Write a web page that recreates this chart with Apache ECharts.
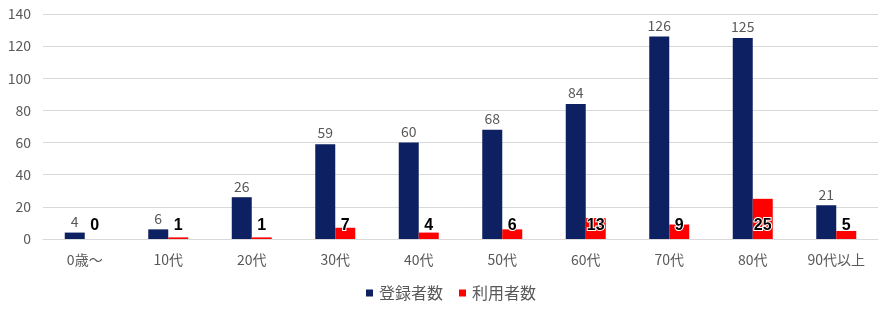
<!DOCTYPE html>
<html><head><meta charset="utf-8">
<script src="https://cdn.jsdelivr.net/npm/echarts@6/dist/echarts.min.js"></script>
<style>html,body{margin:0;padding:0;background:#fff}#c{width:880px;height:325px}</style>
</head><body><div id="c"></div>
<script>
const categories = ['0歳～','10代','20代','30代','40代','50代','60代','70代','80代','90代以上'];
const registered = [4,6,26,59,60,68,84,126,125,21];
const users = [0,1,1,7,4,6,13,9,25,5];
const seriesNames = ['登録者数','利用者数'];
const font = '"Noto Sans CJK JP", sans-serif';
const chart = echarts.init(document.getElementById('c'));
chart.setOption({
  animation:false,
  textStyle:{fontFamily:font},
  grid:{left:43,right:2,top:14,bottom:86,containLabel:false},
  legend:{top:280,left:361,itemWidth:7,itemHeight:7,itemGap:16,icon:'rect',
    textStyle:{color:'#595959',fontSize:16,fontFamily:font,padding:[0,0,0,1]},data:seriesNames},
  xAxis:{type:'category',data:categories,
    axisLine:{lineStyle:{color:'#d9d9d9'}},axisTick:{show:false},
    axisLabel:{color:'#595959',fontSize:14,margin:14,fontFamily:font}},
  yAxis:{type:'value',min:0,max:140,interval:20,
    axisLine:{show:false},axisTick:{show:false},
    splitLine:{lineStyle:{color:'#d9d9d9'}},
    axisLabel:{color:'#595959',fontSize:14,margin:12,fontFamily:font}},
  series:[
    {name:seriesNames[0],type:'bar',data:registered,barWidth:20,barGap:'0%',
     itemStyle:{color:'#0d2162'},
     label:{show:true,position:'top',distance:4,color:'#595959',fontSize:14,fontFamily:font}},
    {name:seriesNames[1],type:'bar',data:users,barWidth:20,
     itemStyle:{color:'#ff0000'},
     label:{show:true,position:'insideBottom',distance:5,color:'#000',fontSize:16,fontWeight:'bold',
       fontFamily:'"Liberation Sans", Arial, sans-serif',textBorderColor:'#fff',textBorderWidth:2}}
  ]
});
</script></body></html>
